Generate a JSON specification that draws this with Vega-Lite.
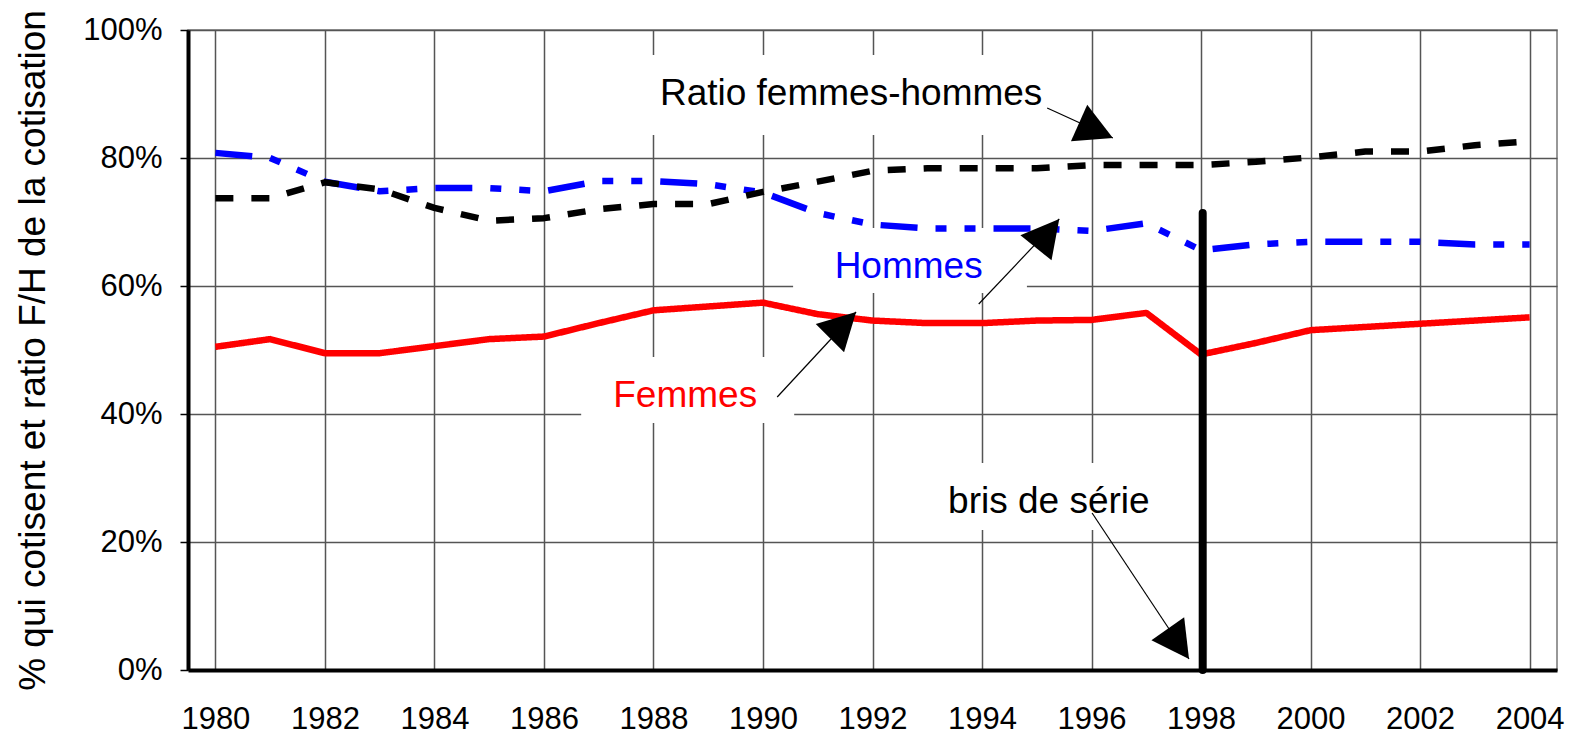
{
  "$schema": "https://vega.github.io/schema/vega-lite/v6.json",
  "width": 1369,
  "height": 640,
  "autosize": {"type": "none"},
  "padding": {"left": 188, "top": 30, "right": 13, "bottom": 70},
  "background": "white",
  "config": {
    "font": "Liberation Sans",
    "view": {"stroke": "#777", "strokeWidth": 1.5}
  },
  "datasets": {
    "series": [
      {"year": 1980, "series": "Femmes", "value": 50.5},
      {"year": 1981, "series": "Femmes", "value": 51.7},
      {"year": 1982, "series": "Femmes", "value": 49.5},
      {"year": 1983, "series": "Femmes", "value": 49.5},
      {"year": 1984, "series": "Femmes", "value": 50.6},
      {"year": 1985, "series": "Femmes", "value": 51.7},
      {"year": 1986, "series": "Femmes", "value": 52.1},
      {"year": 1987, "series": "Femmes", "value": 54.2},
      {"year": 1988, "series": "Femmes", "value": 56.2},
      {"year": 1989, "series": "Femmes", "value": 56.8},
      {"year": 1990, "series": "Femmes", "value": 57.4},
      {"year": 1991, "series": "Femmes", "value": 55.6},
      {"year": 1992, "series": "Femmes", "value": 54.6},
      {"year": 1993, "series": "Femmes", "value": 54.2},
      {"year": 1994, "series": "Femmes", "value": 54.2},
      {"year": 1995, "series": "Femmes", "value": 54.6},
      {"year": 1996, "series": "Femmes", "value": 54.7},
      {"year": 1997, "series": "Femmes", "value": 55.8},
      {"year": 1998, "series": "Femmes", "value": 49.3},
      {"year": 1999, "series": "Femmes", "value": 51.1},
      {"year": 2000, "series": "Femmes", "value": 53.1},
      {"year": 2001, "series": "Femmes", "value": 53.6},
      {"year": 2002, "series": "Femmes", "value": 54.1},
      {"year": 2003, "series": "Femmes", "value": 54.6},
      {"year": 2004, "series": "Femmes", "value": 55.1},
      {"year": 1980, "series": "Hommes", "value": 80.8},
      {"year": 1981, "series": "Hommes", "value": 80.0},
      {"year": 1982, "series": "Hommes", "value": 76.3},
      {"year": 1983, "series": "Hommes", "value": 74.8},
      {"year": 1984, "series": "Hommes", "value": 75.3},
      {"year": 1985, "series": "Hommes", "value": 75.3},
      {"year": 1986, "series": "Hommes", "value": 74.8},
      {"year": 1987, "series": "Hommes", "value": 76.4},
      {"year": 1988, "series": "Hommes", "value": 76.4},
      {"year": 1989, "series": "Hommes", "value": 75.9},
      {"year": 1990, "series": "Hommes", "value": 74.6},
      {"year": 1991, "series": "Hommes", "value": 71.4},
      {"year": 1992, "series": "Hommes", "value": 69.6},
      {"year": 1993, "series": "Hommes", "value": 69.0},
      {"year": 1994, "series": "Hommes", "value": 69.0},
      {"year": 1995, "series": "Hommes", "value": 69.0},
      {"year": 1996, "series": "Hommes", "value": 68.6},
      {"year": 1997, "series": "Hommes", "value": 69.8},
      {"year": 1998, "series": "Hommes", "value": 65.6},
      {"year": 1999, "series": "Hommes", "value": 66.5},
      {"year": 2000, "series": "Hommes", "value": 66.9},
      {"year": 2001, "series": "Hommes", "value": 66.9},
      {"year": 2002, "series": "Hommes", "value": 66.9},
      {"year": 2003, "series": "Hommes", "value": 66.5},
      {"year": 2004, "series": "Hommes", "value": 66.5},
      {"year": 1980, "series": "Ratio femmes-hommes", "value": 73.7},
      {"year": 1981, "series": "Ratio femmes-hommes", "value": 73.7},
      {"year": 1982, "series": "Ratio femmes-hommes", "value": 76.2},
      {"year": 1983, "series": "Ratio femmes-hommes", "value": 75.1},
      {"year": 1984, "series": "Ratio femmes-hommes", "value": 72.2},
      {"year": 1985, "series": "Ratio femmes-hommes", "value": 70.2},
      {"year": 1986, "series": "Ratio femmes-hommes", "value": 70.6},
      {"year": 1987, "series": "Ratio femmes-hommes", "value": 72.0},
      {"year": 1988, "series": "Ratio femmes-hommes", "value": 72.8},
      {"year": 1989, "series": "Ratio femmes-hommes", "value": 72.8},
      {"year": 1990, "series": "Ratio femmes-hommes", "value": 74.7},
      {"year": 1991, "series": "Ratio femmes-hommes", "value": 76.3},
      {"year": 1992, "series": "Ratio femmes-hommes", "value": 78.0},
      {"year": 1993, "series": "Ratio femmes-hommes", "value": 78.4},
      {"year": 1994, "series": "Ratio femmes-hommes", "value": 78.4},
      {"year": 1995, "series": "Ratio femmes-hommes", "value": 78.4},
      {"year": 1996, "series": "Ratio femmes-hommes", "value": 78.9},
      {"year": 1997, "series": "Ratio femmes-hommes", "value": 78.9},
      {"year": 1998, "series": "Ratio femmes-hommes", "value": 78.9},
      {"year": 1999, "series": "Ratio femmes-hommes", "value": 79.4},
      {"year": 2000, "series": "Ratio femmes-hommes", "value": 80.1},
      {"year": 2001, "series": "Ratio femmes-hommes", "value": 81.0},
      {"year": 2002, "series": "Ratio femmes-hommes", "value": 81.0},
      {"year": 2003, "series": "Ratio femmes-hommes", "value": 82.0},
      {"year": 2004, "series": "Ratio femmes-hommes", "value": 82.6}
    ],
    "boxes": [
      {"label": "Ratio femmes-hommes", "year": 1987.39, "year2": 1995.06, "value": 96.09, "value2": 83.59},
      {"label": "Hommes", "year": 1990.55, "year2": 1994.82, "value": 69.06, "value2": 58.91},
      {"label": "Femmes", "year": 1986.68, "year2": 1990.57, "value": 48.91, "value2": 38.59},
      {"label": "bris de série", "year": 1992.5, "year2": 1997.8, "value": 32.34, "value2": 21.88}
    ],
    "breaks": [
      {"year": 1998.03, "value": 71.4, "value2": 0}
    ],
    "arrows": [
      {"label": "Ratio femmes-hommes", "year": 1995.19, "value": 87.81, "year2": 1996.39, "value2": 83.13},
      {"label": "Hommes", "year": 1993.94, "value": 57.19, "year2": 1995.41, "value2": 70.47},
      {"label": "Femmes", "year": 1990.26, "value": 42.66, "year2": 1991.70, "value2": 55.94},
      {"label": "bris de série", "year": 1996.01, "value": 24.53, "year2": 1997.78, "value2": 1.72}
    ],
    "heads": [
      {"label": "Ratio femmes-hommes", "year": 1996.39, "value": 83.13, "angle": 114},
      {"label": "Hommes", "year": 1995.41, "value": 70.47, "angle": 39},
      {"label": "Femmes", "year": 1991.70, "value": 55.94, "angle": 45},
      {"label": "bris de série", "year": 1997.78, "value": 1.72, "angle": 145}
    ],
    "labels": [
      {"label": "Ratio femmes-hommes", "year": 1991.61, "value": 88.28},
      {"label": "Hommes", "year": 1992.66, "value": 61.25},
      {"label": "Femmes", "year": 1988.58, "value": 41.09},
      {"label": "bris de série", "year": 1995.22, "value": 24.53}
    ]
  },
  "encoding": {
    "x": {
      "field": "year",
      "type": "quantitative",
      "scale": {"domain": [1979.5, 2004.5], "nice": false, "zero": false},
      "axis": {
        "values": [1980, 1982, 1984, 1986, 1988, 1990, 1992, 1994, 1996, 1998, 2000, 2002, 2004],
        "format": "d",
        "title": null,
        "labelFontSize": 31,
        "labelColor": "black",
        "labelPadding": 34,
        "labelFlush": false,
        "labelOverlap": false,
        "ticks": false,
        "domainColor": "black",
        "domainWidth": 4,
        "grid": true,
        "gridColor": "#555",
        "gridWidth": 1.5,
        "gridOpacity": 1
      }
    },
    "y": {
      "field": "value",
      "type": "quantitative",
      "scale": {"domain": [0, 100], "nice": false, "zero": true},
      "axis": {
        "values": [0, 20, 40, 60, 80, 100],
        "labelExpr": "datum.value + '%'",
        "title": "% qui cotisent et ratio F/H de la cotisation",
        "titleFontSize": 37,
        "titleFontWeight": "normal",
        "titleColor": "black",
        "titlePadding": 30,
        "labelFontSize": 31,
        "labelColor": "black",
        "labelPadding": 18,
        "labelFlush": false,
        "tickSize": 8,
        "tickColor": "black",
        "tickWidth": 1.5,
        "domainColor": "black",
        "domainWidth": 4,
        "grid": true,
        "gridColor": "#555",
        "gridWidth": 1.5,
        "gridOpacity": 1
      }
    }
  },
  "layer": [
    {
      "data": {"name": "boxes"},
      "mark": {"type": "rect", "fill": "white", "stroke": null},
      "encoding": {
        "x2": {"field": "year2"},
        "y2": {"field": "value2"}
      }
    },
    {
      "data": {"name": "series"},
      "mark": {"type": "line", "strokeWidth": 6.5, "strokeCap": "butt", "strokeJoin": "round"},
      "encoding": {
        "color": {
          "field": "series",
          "type": "nominal",
          "scale": {"domain": ["Femmes", "Hommes", "Ratio femmes-hommes", "bris de série"], "range": ["#ff0000", "#0000ff", "#000000", "#000000"]},
          "legend": null
        },
        "strokeDash": {
          "field": "series",
          "type": "nominal",
          "scale": {"domain": ["Femmes", "Hommes", "Ratio femmes-hommes"], "range": [[1, 0], [37, 18, 11, 18, 11, 18], [18, 18]]},
          "legend": null
        }
      }
    },
    {
      "data": {"name": "breaks"},
      "mark": {"type": "rule", "color": "black", "strokeWidth": 8, "strokeCap": "round"},
      "encoding": {
        "y2": {"field": "value2"}
      }
    },
    {
      "data": {"name": "arrows"},
      "mark": {"type": "rule", "color": "black", "strokeWidth": 1.2},
      "encoding": {
        "x2": {"field": "year2"},
        "y2": {"field": "value2"}
      }
    },
    {
      "data": {"name": "heads"},
      "mark": {"type": "point", "shape": "M0,0L-1,1.85L1,1.85Z", "filled": true, "color": "black", "size": 1600, "opacity": 1, "strokeWidth": 0},
      "encoding": {
        "angle": {"field": "angle", "type": "quantitative", "scale": null}
      }
    },
    {
      "data": {"name": "labels"},
      "mark": {"type": "text", "align": "center", "baseline": "alphabetic", "fontSize": 37},
      "encoding": {
        "text": {"field": "label"},
        "color": {
          "field": "label",
          "type": "nominal",
          "scale": {"domain": ["Femmes", "Hommes", "Ratio femmes-hommes", "bris de série"], "range": ["#ff0000", "#0000ff", "#000000", "#000000"]},
          "legend": null
        }
      }
    }
  ]
}
